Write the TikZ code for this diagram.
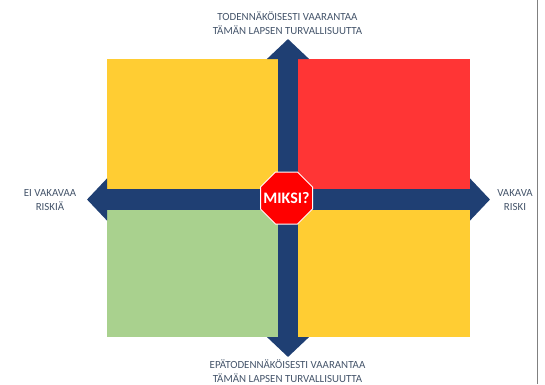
\documentclass[tikz,border=0pt]{standalone}
\usepackage{fontspec}
\setmainfont{Carlito}
\usetikzlibrary{arrows.meta}
\definecolor{barblue}{HTML}{1F3F73}
\definecolor{labelblue}{HTML}{44546A}
\definecolor{cellyellow}{HTML}{FFCD33}
\definecolor{cellred}{HTML}{FF3535}
\definecolor{cellgreen}{HTML}{A9D18E}
\definecolor{stopred}{HTML}{FF0000}
\tikzset{
    cell/.style={minimum width=#1,minimum height=130pt,inner sep=0pt,outer sep=0pt},
    bar/.style={line width=20.5pt,barblue,-{Triangle[width=41pt,length=20pt]}},
    axislabel/.style={text=labelblue,font=\fontsize{10.9}{14}\selectfont,align=center,inner sep=0pt},
}
\begin{document}
\begin{tikzpicture}[x=1pt,y=-1pt]
    \useasboundingbox (0,0) rectangle (545,384);
    % Frame edge
    \draw[gray,line width=1pt] (537.5,0) -- (537.5,384);

    % Quadrants
    \node[cell=171pt,fill=cellyellow] (lowhigh) at (192.5,124) {};
    \node[cell=172pt,fill=cellred] (highhigh) at (384,124) {};
    \node[cell=171pt,fill=cellgreen,minimum height=127pt] (lowlow) at (192.5,273.5) {};
    \node[cell=172pt,fill=cellyellow,minimum height=127pt] (highlow) at (384,273.5) {};

    % Axis arrows
    \coordinate (centre) at (288,199.5);
    \coordinate (tiptop) at (288,39);
    \coordinate (tipbottom) at (288,357);
    \coordinate (tipleft) at (87,199.5);
    \coordinate (tipright) at (490,199.5);
    \foreach \tip in {tiptop,tipbottom,tipleft,tipright}
        \draw[bar] (centre) -- (\tip);

    % Stop sign
    \draw[fill=stopred,draw=white,line width=1pt,shift={(286.5,198)}]
        (-26,-11) -- (-11,-26) -- (11,-26) -- (26,-11) -- (26,11) -- (11,26) -- (-11,26) -- (-26,11) -- cycle;
    \node[text=white,font=\fontsize{16}{18}\selectfont\bfseries,inner sep=0pt] (miksi) at (286.5,198) {MIKSI?};

    % Axis labels
    \node[axislabel] (toplabel) at (287.5,23) {TODENNÄKÖISESTI VAARANTAA\\TÄMÄN LAPSEN TURVALLISUUTTA};
    \node[axislabel] (bottomlabel) at (287.5,371) {EPÄTODENNÄKÖISESTI VAARANTAA\\TÄMÄN LAPSEN TURVALLISUUTTA};
    \node[axislabel] (leftlabel) at (50,200) {EI VAKAVAA\\RISKIÄ};
    \node[axislabel] (rightlabel) at (515,200) {VAKAVA\\RISKI};
\end{tikzpicture}
\end{document}
